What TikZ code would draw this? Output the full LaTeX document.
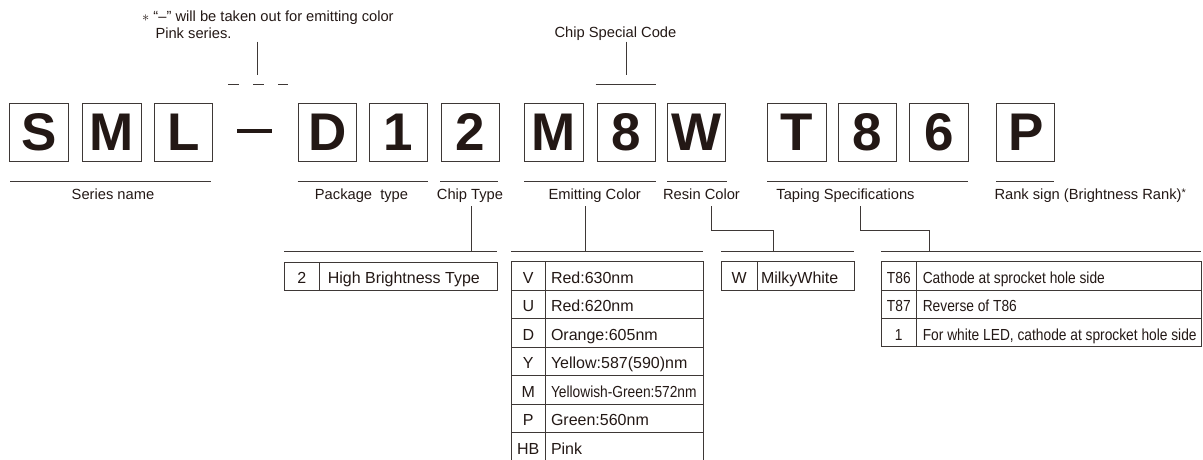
\documentclass[tikz,border=0pt]{standalone}
\usepackage{fontspec}
\setmainfont{Liberation Sans}
\newfontfamily\condfont[FakeStretch=0.86]{Liberation Sans}
\definecolor{ink}{RGB}{35,24,21}
\definecolor{rulec}{RGB}{62,56,54}
\begin{document}
\begin{tikzpicture}[x=1pt,y=-1pt,line width=1pt,
  letterbox/.style={draw=rulec,line width=1.1pt,minimum width=58.3pt,minimum height=58.3pt,inner sep=0pt,anchor=north west,font=\fontsize{53}{53}\selectfont\bfseries,text=ink},
  lbl/.style={font=\fontsize{14.7}{16}\selectfont,text=ink,inner sep=0pt,anchor=base},
  cellbox/.style={draw=rulec,inner sep=0pt,anchor=north west,line width=1pt},
  celltxt/.style={font=\fontsize{16}{18}\selectfont,text=ink,inner sep=0pt,anchor=base west},
  codetxt/.style={font=\fontsize{16}{18}\selectfont,text=ink,inner sep=0pt,anchor=base},
  condtxt/.style={font=\fontsize{16}{18}\condfont,text=ink,inner sep=0pt,anchor=base west},
  condcode/.style={font=\fontsize{16}{18}\condfont,text=ink,inner sep=0pt,anchor=base},
  ln/.style={draw=rulec,line width=1pt}]
\useasboundingbox (0,0) rectangle (1203,459);

% letter boxes
\node[letterbox] (bS) at (9.3,102.7) {S};
\node[letterbox] (bM) at (82.3,102.7) {M};
\node[letterbox] (bL) at (153.7,102.7) {L};
\node[letterbox] (bD) at (297.7,102.7) {D};
\node[letterbox] (b1) at (369,102.7) {1};
\node[letterbox] (b2) at (440.5,102.7) {2};
\node[letterbox] (bM2) at (524.3,102.7) {M};
\node[letterbox] (b8) at (596.7,102.7) {8};
\node[letterbox] (bW) at (666.7,102.7) {W};
\node[letterbox] (bT) at (767.3,102.7) {T};
\node[letterbox] (b8b) at (838,102.7) {8};
\node[letterbox] (b6) at (909.3,102.7) {6};
\node[letterbox] (bP) at (996,102.7) {P};

% big dash
\coordinate (dashL) at (237,131);
\coordinate (dashR) at (272,131);
\draw[draw=ink,line width=4.5pt] (dashL) -- (dashR);

% top annotation
\node[lbl,anchor=base west] (note1) at (141.7,21.5) {$\ast$ “–” will be taken out for emitting color};
\node[lbl,anchor=base west] (note2) at (155,38.5) {Pink series.};
\coordinate (n1) at (257.7,41.7);
\coordinate (n2) at (257.7,75);
\draw[ln] (n1) -- (n2);
\coordinate (d1a) at (228.3,84.3); \coordinate (d1b) at (239.3,84.3);
\coordinate (d2a) at (253.3,84.3); \coordinate (d2b) at (264.3,84.3);
\coordinate (d3a) at (278.3,84.3); \coordinate (d3b) at (288.3,84.3);
\draw[ln] (d1a) -- (d1b) (d2a) -- (d2b) (d3a) -- (d3b);

\node[lbl] (csc) at (615.5,37.7) {Chip Special Code};
\coordinate (c1) at (626,41.7);
\coordinate (c2) at (626,75);
\coordinate (c3) at (595.7,84.3);
\coordinate (c4) at (655.7,84.3);
\draw[ln] (c1) -- (c2);
\draw[ln] (c3) -- (c4);

% underlines
\foreach \a/\b in {10/211.3, 297.7/428.3, 440/498.3, 524.3/655.7, 667/726.7, 767.3/967.7, 996/1054}
  \draw[ln] (\a,181) -- (\b,181);

% labels
\node[lbl] (series) at (113,199.5) {Series name};
\node[lbl] (pkg) at (361.5,199.5) {Package\ \ type};
\node[lbl] (chip) at (470,199.5) {Chip Type};
\node[lbl] (emit) at (594.7,199.5) {Emitting Color};
\node[lbl] (resin) at (701.5,199.5) {Resin Color};
\node[lbl] (taping) at (845.5,199.5) {Taping Specifications};
\node[lbl,anchor=base west] (rank) at (994,199.5) {Rank sign (Brightness Rank)\raisebox{0.35ex}{\fontsize{11}{11}\selectfont*}};

% connectors from labels to tables
\coordinate (chipA) at (471.7,206); \coordinate (chipB) at (471.7,251.7);
\draw[ln] (chipA) -- (chipB);
\coordinate (emitA) at (585.7,206); \coordinate (emitB) at (585.7,251.7);
\draw[ln] (emitA) -- (emitB);
\coordinate (resA) at (711,206); \coordinate (resB) at (773.3,251.7);
\draw[ln] (resA) |- (773.3,230.7) -- (resB);
\coordinate (tapA) at (860.7,206); \coordinate (tapB) at (929,251.7);
\draw[ln] (tapA) |- (929,230.7) -- (tapB);

% table top rules
\draw[ln] (284,251.7) -- (497.3,251.7);
\draw[ln] (511,251.7) -- (703,251.7);
\draw[ln] (721,251.7) -- (854,251.7);
\draw[ln] (881,251.7) -- (1201,251.7);

% chip type table
\node[cellbox,minimum width=35.3pt,minimum height=28.3pt] (ct1) at (284,261.7) {};
\node[cellbox,minimum width=178pt,minimum height=28.3pt] (ct2) at (319.3,261.7) {};
\node[codetxt] at (301.7,283.3) {2};
\node[celltxt] at (327.3,283.3) {High Brightness Type};

% emitting color table
\draw[ln] (511,459.5) -- (511,261.7) -- (703,261.7) -- (703,459.5);
\draw[ln] (545.7,261.7) -- (545.7,459.5);
\foreach \i in {1,...,6}
  \draw[ln] (511,261.7+28.5*\i) -- (703,261.7+28.5*\i);
\foreach \c/\t [count=\i from 0] in {V/Red:630nm, U/Red:620nm, D/Orange:605nm, Y/Yellow:587(590)nm, M/{}, P/Green:560nm, HB/Pink}{
  \node[codetxt] at (528.3,261.7+28.5*\i+21.6) {\c};
  \node[celltxt] at (550.5,261.7+28.5*\i+21.6) {\t};
}
\node[condtxt] at (550.5,261.7+28.5*4+21.6) {Yellowish-Green:572nm};

% resin table
\node[cellbox,minimum width=36.3pt,minimum height=29pt] (rt1) at (721,261) {};
\node[cellbox,minimum width=96.7pt,minimum height=29pt] (rt2) at (757.3,261) {};
\node[codetxt] at (739.2,283.3) {W};
\node[celltxt] at (760.5,283.3) {MilkyWhite};

% taping table
\draw[ln] (881,261.3) rectangle (1201,346.7);
\draw[ln] (916.7,261.3) -- (916.7,346.7);
\draw[ln] (881,290) -- (1201,290);
\draw[ln] (881,318.3) -- (1201,318.3);
\node[condcode] at (898.8,283.3) {T86};
\node[condcode] at (898.8,311.8) {T87};
\node[condcode] at (898.8,340.2) {1};
\node[condtxt] at (922.3,283.3) {Cathode at sprocket hole side};
\node[condtxt] at (922.3,311.8) {Reverse of T86};
\node[condtxt] at (922.3,340.2) {For white LED, cathode at sprocket hole side};
\end{tikzpicture}
\end{document}
